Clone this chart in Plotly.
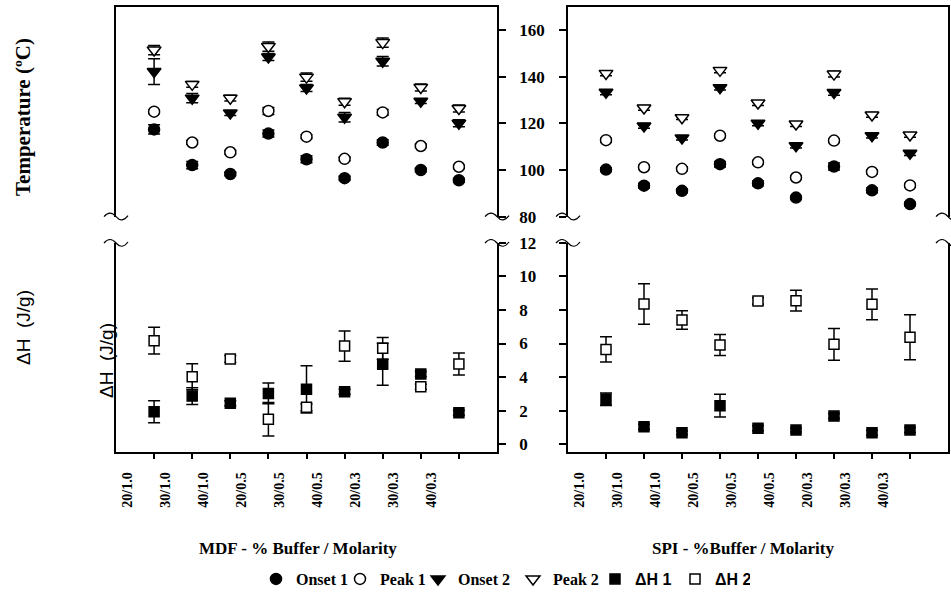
import plotly.graph_objects as go

W, H = 951, 596

categories = ["20/1.0", "30/1.0", "40/1.0", "20/0.5", "30/0.5", "40/0.5", "20/0.3", "30/0.3", "40/0.3"]

# MDF temperatures (°C)
mdf_onset1 = [117.4, 102.1, 98.3, 115.6, 104.6, 96.5, 111.8, 100.0, 95.6]
mdf_onset1_err = [2.0, 1.5, 0.8, 1.5, 1.5, 0.8, 1.2, 0.8, 0.8]
mdf_peak1 = [125.0, 111.8, 107.6, 125.3, 114.3, 104.8, 124.7, 110.3, 101.4]
mdf_peak1_err = [0.8, 0.8, 0.8, 1.5, 0.8, 0.8, 1.2, 0.8, 0.8]
mdf_onset2 = [142.2, 130.8, 124.4, 148.4, 135.1, 122.6, 146.6, 129.5, 120.0]
mdf_onset2_err = [5.5, 2.0, 1.0, 1.5, 1.5, 2.0, 2.0, 1.0, 1.5]
mdf_peak2 = [151.4, 136.7, 130.8, 152.9, 139.8, 129.3, 154.6, 135.4, 126.4]
mdf_peak2_err = [2.0, 1.2, 1.2, 2.0, 1.8, 1.5, 2.0, 1.5, 1.5]

# SPI temperatures (°C)
spi_onset1 = [100.2, 93.3, 91.1, 102.5, 94.3, 88.2, 101.5, 91.3, 85.4]
spi_onset1_err = [0.8, 1.0, 0.8, 1.2, 1.0, 0.8, 1.5, 1.0, 0.8]
spi_peak1 = [112.8, 101.2, 100.5, 114.7, 103.3, 96.8, 112.6, 99.2, 93.4]
spi_peak1_err = [0.8, 0.8, 0.8, 0.8, 0.8, 0.8, 0.8, 0.8, 0.8]
spi_onset2 = [133.3, 118.9, 113.7, 135.3, 120.0, 110.4, 133.2, 114.7, 107.2]
spi_onset2_err = [1.0, 1.0, 0.8, 1.0, 1.0, 1.0, 1.2, 1.0, 1.0]
spi_peak2 = [141.4, 126.6, 122.4, 142.7, 128.7, 119.7, 141.1, 123.6, 115.0]
spi_peak2_err = [1.0, 1.0, 0.8, 1.0, 1.0, 1.0, 1.2, 1.0, 1.0]

# MDF enthalpies (J/g)
mdf_dh1 = [1.94, 2.87, 2.44, 3.03, 3.27, 3.13, 4.76, 4.18, 1.88]
mdf_dh1_err = [0.65, 0.5, 0.15, 0.62, 1.4, 0.15, 1.25, 0.15, 0.15]
mdf_dh2 = [6.17, 4.02, 5.08, 1.49, 2.2, 5.85, 5.71, 3.43, 4.78]
mdf_dh2_err = [0.8, 0.77, 0.2, 1.0, 0.2, 0.9, 0.65, 0.15, 0.65]

# SPI enthalpies (J/g)
spi_dh1 = [2.68, 1.05, 0.69, 2.3, 0.95, 0.85, 1.68, 0.69, 0.85]
spi_dh1_err = [0.37, 0.15, 0.1, 0.68, 0.15, 0.12, 0.15, 0.15, 0.15]
spi_dh2 = [5.65, 8.35, 7.4, 5.91, 8.53, 8.55, 5.95, 8.33, 6.37]
spi_dh2_err = [0.75, 1.2, 0.55, 0.62, 0.2, 0.62, 0.95, 0.92, 1.34]

temp_ticks = [80, 100, 120, 140, 160]
dh_ticks = [0, 2, 4, 6, 8, 10, 12]

SERIF = "Liberation Serif"
SANS = "Liberation Sans"

def px_x(p):
    return p / W

def px_y(p):
    return 1 - p / H

styles = {
    "Onset 1": dict(symbol="circle", color="black", size=11),
    "Peak 1": dict(symbol="circle", color="white", size=11),
    "Onset 2": dict(symbol="triangle-down", color="black", size=12),
    "Peak 2": dict(symbol="triangle-down", color="white", size=12),
    "dH1": dict(symbol="square", color="black", size=10),
    "dH2": dict(symbol="square", color="white", size=10),
}
legend_names = {
    "Onset 1": "Onset 1",
    "Peak 1": "Peak 1",
    "Onset 2": "Onset 2",
    "Peak 2": "Peak 2",
    "dH1": "<span style='font-family:Liberation Sans'>ΔH 1</span>",
    "dH2": "<span style='font-family:Liberation Sans'>ΔH 2</span>",
}
legend_widths = {"Onset 1": 39, "Peak 1": 33, "Onset 2": 50, "Peak 2": 37, "dH1": 35, "dH2": 30}

fig = go.Figure()

def add(key, y, err, xa, ya, show):
    st = styles[key]
    fig.add_trace(go.Scatter(
        x=categories, y=y, mode="markers", xaxis=xa, yaxis=ya,
        name=legend_names[key], showlegend=show,
        legendwidth=legend_widths[key],
        marker=dict(symbol=st["symbol"], color=st["color"], size=st["size"],
                    line=dict(color="black", width=1.5)),
        error_y=dict(type="data", array=err, visible=True, color="black",
                     thickness=1.5, width=6),
    ))

add("Onset 1", mdf_onset1, mdf_onset1_err, "x", "y", True)
add("Peak 1", mdf_peak1, mdf_peak1_err, "x", "y", True)
add("Onset 2", mdf_onset2, mdf_onset2_err, "x", "y", True)
add("Peak 2", mdf_peak2, mdf_peak2_err, "x", "y", True)
add("dH1", mdf_dh1, mdf_dh1_err, "x3", "y3", True)
add("dH2", mdf_dh2, mdf_dh2_err, "x3", "y3", True)
add("Onset 1", spi_onset1, spi_onset1_err, "x2", "y2", False)
add("Peak 1", spi_peak1, spi_peak1_err, "x2", "y2", False)
add("Onset 2", spi_onset2, spi_onset2_err, "x2", "y2", False)
add("Peak 2", spi_peak2, spi_peak2_err, "x2", "y2", False)
add("dH1", spi_dh1, spi_dh1_err, "x4", "y4", False)
add("dH2", spi_dh2, spi_dh2_err, "x4", "y4", False)

left_dom = [px_x(116), px_x(497)]
right_dom = [px_x(568), px_x(948)]
top_dom = [px_y(216.7), px_y(7)]
bot_dom = [px_y(452), px_y(242.7)]

line = dict(showline=True, linecolor="black", linewidth=1.5, showgrid=False,
            zeroline=False, automargin=False)
tickfont = dict(family=SERIF, size=17, color="black", weight="bold")
xtickfont = dict(family=SERIF, size=14, color="black", weight="bold")

def top_x(dom, anchor):
    return dict(domain=dom, anchor=anchor, side="top", type="category",
                categoryorder="array", categoryarray=categories,
                range=[-1, 9], ticks="", showticklabels=False, **line)

def bot_x(dom, anchor):
    return dict(domain=dom, anchor=anchor, side="bottom", type="category",
                categoryorder="array", categoryarray=categories,
                range=[-1, 9], ticks="outside", ticklen=5, tickwidth=1.5,
                tickcolor="black", tickangle=-90, tickfont=xtickfont,
                ticklabelshift=-27, ticklabelstandoff=8, **line)

def yax(dom, anchor, side, rng, tv, labels):
    return dict(domain=dom, anchor=anchor, side=side, range=rng, tickvals=tv,
                ticks="outside", ticklen=7, tickwidth=1.5, tickcolor="black",
                showticklabels=labels, tickfont=tickfont, ticklabelstandoff=10,
                mirror=True, **line)

temp_top = 160 + (30 - 7) / 46.67 * 20
dh_bot = -(452 - 444.3) / 16.8

fig.update_layout(
    width=W, height=H, autosize=False,
    margin=dict(l=0, r=0, t=0, b=0, autoexpand=False),
    paper_bgcolor="white", plot_bgcolor="white",
    xaxis=top_x(left_dom, "y"),
    yaxis=yax(top_dom, "x", "right", [80, temp_top], temp_ticks, True),
    xaxis2=top_x(right_dom, "y2"),
    yaxis2=yax(top_dom, "x2", "left", [80, temp_top], temp_ticks, False),
    xaxis3=bot_x(left_dom, "y3"),
    yaxis3=yax(bot_dom, "x3", "right", [dh_bot, 12], dh_ticks, True),
    xaxis4=bot_x(right_dom, "y4"),
    yaxis4=yax(bot_dom, "x4", "left", [dh_bot, 12], dh_ticks, False),
    legend=dict(orientation="h", x=px_x(256), xanchor="left", y=px_y(579), yanchor="middle",
                font=dict(family=SERIF, size=16, color="black", weight="bold"),
                bgcolor="rgba(0,0,0,0)", itemwidth=30),
    showlegend=True,
)

annotations = [
    dict(text="Temperature (ºC)", x=px_x(23), y=px_y(117), textangle=-90,
         font=dict(family=SERIF, size=21, color="black", weight="bold")),
    dict(text="ΔH  (J/g)", x=px_x(23), y=px_y(328), textangle=-90,
         font=dict(family=SANS, size=19, color="black")),
    dict(text="ΔH  (J/g)", x=px_x(106), y=px_y(361), textangle=-90,
         font=dict(family=SANS, size=19, color="black")),
    dict(text="MDF - % Buffer / Molarity", x=px_x(298), y=px_y(548),
         font=dict(family=SERIF, size=17, color="black", weight="bold")),
    dict(text="SPI - %Buffer / Molarity", x=px_x(743), y=px_y(548),
         font=dict(family=SERIF, size=17, color="black", weight="bold")),
]
for a in annotations:
    a.update(xref="paper", yref="paper", showarrow=False, xanchor="center", yanchor="middle")
fig.update_layout(annotations=annotations)

def tilde(cx, cy):
    pts = [(cx - 12, cy), (cx - 6, cy - 7), (cx, cy), (cx + 6, cy + 7), (cx + 12, cy - 1)]
    (x0, y0), (c1x, c1y), (mx, my), (c2x, c2y), (x1, y1) = [(px_x(a), px_y(b)) for a, b in pts]
    return dict(type="path", xref="paper", yref="paper",
                path=f"M{x0},{y0} Q{c1x},{c1y} {mx},{my} Q{c2x},{c2y} {x1},{y1}",
                line=dict(color="black", width=1.2))

shapes = []
for cx in (116, 497, 568, 948):
    shapes.append(tilde(cx, 216.7))
    shapes.append(tilde(cx, 243))
fig.update_layout(shapes=shapes)

fig.write_html("out.html")
